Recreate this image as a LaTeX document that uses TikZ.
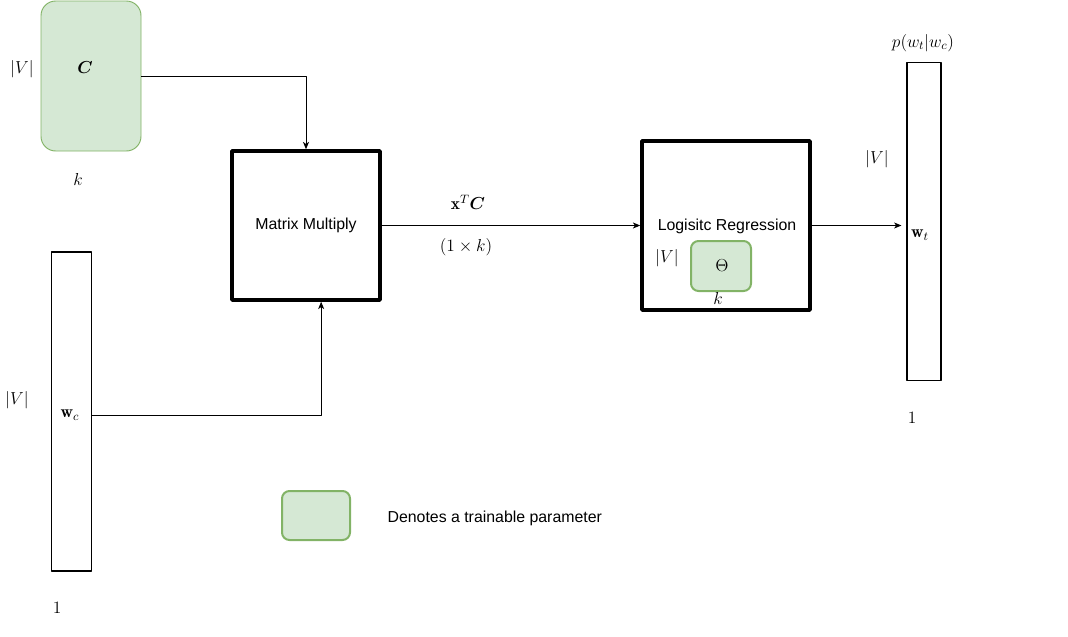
\RequirePackage{fix-cm}
\documentclass[tikz,border=0pt]{standalone}
\usepackage{amsmath, amssymb, bm}
\usepackage{fontspec}
\newfontfamily\helv{Liberation Sans}
\usetikzlibrary{arrows.meta}
\usetikzlibrary{calc}
\definecolor{paramfill}{HTML}{D5E8D4}
\definecolor{paramline}{HTML}{82B366}
\tikzset{l/.style={font=\fontsize{13}{15}\selectfont, inner sep=1pt}}
\tikzset{t/.style={font=\helv\fontsize{11.9}{14}\selectfont, inner sep=1pt}}
\tikzset{param/.style={draw=paramline, fill=paramfill, inner sep=0pt}}
\tikzset{op/.style={draw, line width=2.6pt, inner sep=0pt}}
\tikzset{vec/.style={draw, line width=0.8pt, inner sep=0pt}}

\begin{document}
\begin{tikzpicture}[x=0.75pt, y=-0.75pt, line join=round,
    >={Stealth[length=5.5pt, width=4.5pt, inset=1.5pt]}]
  \useasboundingbox (0,0) rectangle (1068,636);
  % embedding matrix
  \node [param, line width=0.7pt, rounded corners=11pt,
    minimum width=75pt, minimum height=112.5pt] (C) at (91,76) {};
  \node [l] (Clab) at (85,68) {$\bm{C}$};
  \node [l] (CV) at (22,69) {$|V|$};
  \node [l] (Ck) at (78,179) {$k$};
  % context vector
  \node [vec, minimum width=29.6pt, minimum height=239.25pt] (wc) at (71.5,411.5) {};
  \node [l] (wclab) at (70,415) {$\mathbf{w}_c$};
  \node [l] (wcV) at (17,400) {$|V|$};
  \node [l] (wc1) at (57,608) {$1$};
  % operations
  \node [op, t, minimum width=111pt, minimum height=111.75pt] (MM) at (306,225.5) {Matrix Multiply};
  \node [op, minimum width=126pt, minimum height=126.75pt] (LR) at (726,225.5) {};
  \node [t] (LRlab) at (727,226) {Logisitc Regression};
  \node [param, line width=1.5pt, rounded corners=5.6pt,
    minimum width=45pt, minimum height=37.5pt] (Th) at (721,266) {};
  \node [l] (Thlab) at (722,266) {$\Theta$};
  \node [l] (ThV) at (667,258) {$|V|$};
  \node [l] (Thk) at (718,298) {$k$};
  \node [l] (xC) at (468,202) {$\mathbf{x}^T\bm{C}$};
  \node [l] (xCdim) at (466,247) {$(1\times k)$};
  % target vector
  \node [vec, minimum width=25.5pt, minimum height=238.5pt] (wt) at (924,221.5) {};
  \node [l] (wtlab) at (920,235) {$\mathbf{w}_t$};
  \node [l] (wtV) at (877,159) {$|V|$};
  \node [l] (wt1) at (912,418) {$1$};
  \node [l] (pw) at (923,43) {$p(w_t|w_c)$};
  % legend
  \node [param, line width=1.5pt, rounded corners=5.6pt,
    minimum width=51pt, minimum height=36.75pt] (key) at (316,515.5) {};
  \node [t, anchor=west] (keylab) at (386,518) {Denotes a trainable parameter};
  % connectors
  \draw [->, line width=0.75pt] (C.east) -| (MM.north);
  \draw [->, line width=0.75pt] (wc.east |- wclab.center) -| ($(MM.south)!0.2!(MM.south east)$);
  \draw [->, line width=0.75pt] (MM.east) -- (LR.west);
  \draw [->, line width=0.75pt, shorten >=3.75pt] (LR.east) -- (wt.west |- LR.east);
\end{tikzpicture}
\end{document}
